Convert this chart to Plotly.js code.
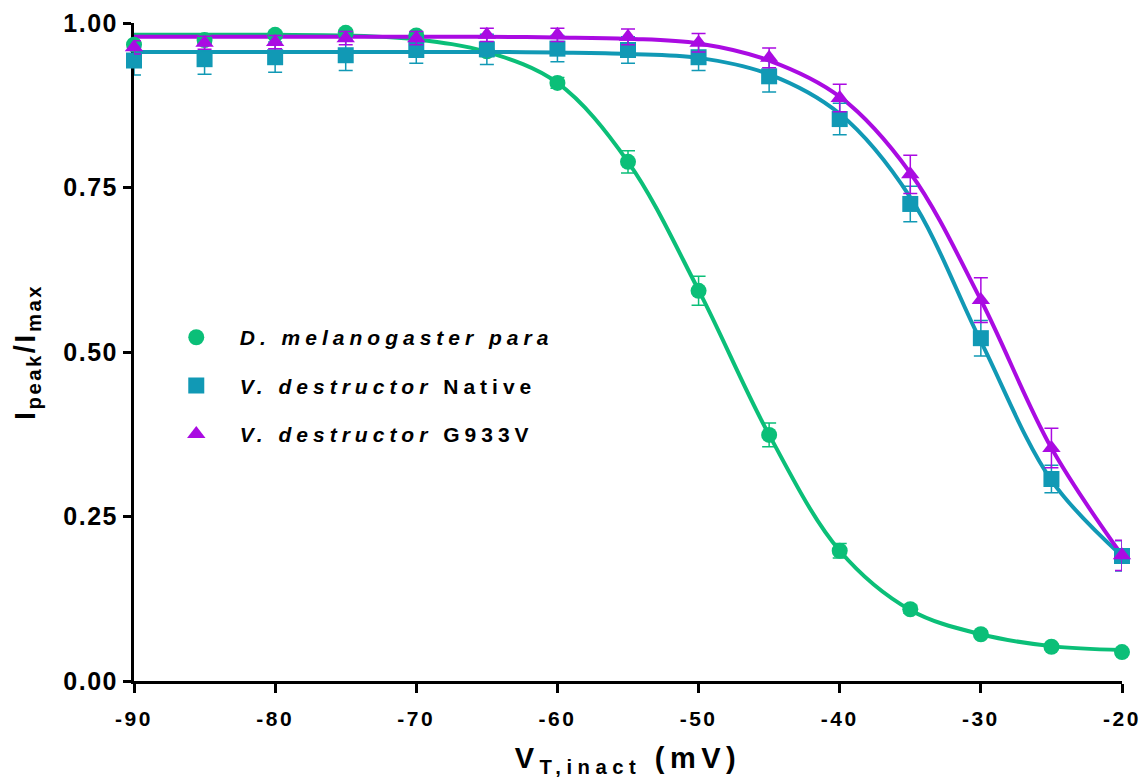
<!DOCTYPE html>
<html>
<head>
<meta charset="utf-8">
<script src="https://cdn.plot.ly/plotly-3.0.1.min.js"></script>
<style>
  html, body { margin: 0; padding: 0; background: #fff; }
  #chart { width: 1143px; height: 778px; }
  .xtick text { letter-spacing: 2.5px; }
  .ytick text { letter-spacing: 1.5px; }
  .legendtext { letter-spacing: 5px; }
  .g-xtitle text { letter-spacing: 5.5px; }
  .g-ytitle text { letter-spacing: 2.5px; }
</style>
</head>
<body>
<div id="chart"></div>
<script>
// Voltage steps (mV)
const voltages = [-90, -85, -80, -75, -70, -65, -60, -55, -50, -45, -40, -35, -30, -25, -20];

// D. melanogaster para
const melanoMean = [0.967, 0.974, 0.982, 0.985, 0.981, 0.957, 0.909, 0.789, 0.593, 0.374, 0.198, 0.109, 0.071, 0.052, 0.044];
const melanoErr  = [0.005, 0.005, 0.005, 0.005, 0.005, 0.008, 0.008, 0.017, 0.022, 0.018, 0.011, 0.006, 0.005, 0.004, 0.004];
const melanoFit  = [0.982, 0.982, 0.982, 0.981, 0.975, 0.956, 0.909, 0.789, 0.594, 0.374, 0.198, 0.108, 0.071, 0.053, 0.047];

// V. destructor Native
const nativeMean = [0.943, 0.945, 0.948, 0.951, 0.959, 0.960, 0.961, 0.959, 0.948, 0.919, 0.854, 0.725, 0.521, 0.307, 0.190];
const nativeErr  = [0.022, 0.023, 0.023, 0.023, 0.020, 0.023, 0.020, 0.020, 0.020, 0.024, 0.024, 0.027, 0.027, 0.021, 0.023];
const nativeFit  = [0.956, 0.956, 0.956, 0.956, 0.956, 0.956, 0.955, 0.953, 0.947, 0.922, 0.862, 0.735, 0.516, 0.305, 0.190];

// V. destructor G933V
const g933vMean = [0.963, 0.970, 0.971, 0.977, 0.977, 0.982, 0.982, 0.979, 0.970, 0.947, 0.886, 0.770, 0.579, 0.354, 0.191];
const g933vErr  = [0.010, 0.010, 0.010, 0.010, 0.010, 0.010, 0.010, 0.012, 0.014, 0.015, 0.021, 0.029, 0.034, 0.030, 0.023];
const g933vFit  = [0.979, 0.979, 0.979, 0.979, 0.979, 0.979, 0.978, 0.976, 0.969, 0.943, 0.888, 0.772, 0.579, 0.354, 0.191];

// Tick labels
const xTickVals = [-90, -80, -70, -60, -50, -40, -30, -20];
const xTickText = ['-90', '-80', '-70', '-60', '-50', '-40', '-30', '-20'];
const yTickVals = [0, 0.25, 0.5, 0.75, 1.0];
const yTickText = ['0.00', '0.25', '0.50', '0.75', '1.00'];

const cGreen = '#0BBF78';
const cBlue = '#1199B5';
const cPurple = '#AA0BE2';
const FONT = 'Liberation Sans, Arial, sans-serif';

function fitTrace(y, color) {
  return {
    x: voltages, y: y, type: 'scatter', mode: 'lines',
    line: { color: color, width: 4, shape: 'spline', smoothing: 1.0 },
    hoverinfo: 'skip', showlegend: false, cliponaxis: false
  };
}
function dataTrace(y, err, color, symbol, name, group) {
  return {
    x: voltages, y: y, type: 'scatter', mode: 'markers', name: name,
    legendgroup: group,
    marker: { color: color, symbol: symbol, size: 16, line: { width: 0 } },
    error_y: { type: 'data', array: err, visible: true, color: color, thickness: 1.5, width: 7 },
    cliponaxis: false
  };
}

const traces = [
  fitTrace(melanoFit, cGreen),
  fitTrace(nativeFit, cBlue),
  fitTrace(g933vFit, cPurple),
  dataTrace(melanoMean, melanoErr, cGreen, 'circle', '<i>D. melanogaster para</i>', 'a'),
  dataTrace(nativeMean, nativeErr, cBlue, 'square', '<i>V. destructor</i> Native', 'b'),
  dataTrace(g933vMean, g933vErr, cPurple, 'triangle-up', '<i>V. destructor</i> G933V', 'c')
];

const layout = {
  width: 1143, height: 778,
  margin: { l: 134, r: 21, t: 23, b: 97 },
  paper_bgcolor: '#ffffff', plot_bgcolor: '#ffffff',
  font: { family: FONT, color: '#000', size: 20, weight: 'bold' },
  showlegend: true,
  legend: {
    x: 0.019, y: 0.553, xanchor: 'left', yanchor: 'top',
    bgcolor: 'rgba(0,0,0,0)', borderwidth: 0,
    tracegroupgap: 18, traceorder: 'grouped',
    itemwidth: 77,
    font: { family: FONT, size: 21, color: '#000', weight: 'bold' }
  },
  xaxis: {
    range: [-90, -20], tickmode: 'array', tickvals: xTickVals, ticktext: xTickText,
    showgrid: false, zeroline: false, showline: true, linecolor: '#000', linewidth: 3,
    ticks: 'outside', ticklen: 9, tickwidth: 3, tickcolor: '#000',
    ticklabelstandoff: 8,
    tickfont: { family: FONT, size: 21, color: '#000', weight: 'bold' },
    layer: 'below traces',
    title: { text: 'V<sub>T,inact</sub> (mV)', standoff: 20,
             font: { family: FONT, size: 29, color: '#000', weight: 'bold' } }
  },
  yaxis: {
    range: [0, 1], tickmode: 'array', tickvals: yTickVals, ticktext: yTickText,
    showgrid: false, zeroline: false, showline: true, linecolor: '#000', linewidth: 3,
    ticks: 'outside', ticklen: 8, tickwidth: 3, tickcolor: '#000',
    tickfont: { family: FONT, size: 25, color: '#000', weight: 'bold' },
    layer: 'below traces',
    title: { text: 'I<sub>peak</sub>/I<sub>max</sub>', standoff: 20,
             font: { family: FONT, size: 29, color: '#000', weight: 'bold' } }
  }
};

Plotly.newPlot('chart', traces, layout, { displayModeBar: false, staticPlot: true });
</script>
</body>
</html>
